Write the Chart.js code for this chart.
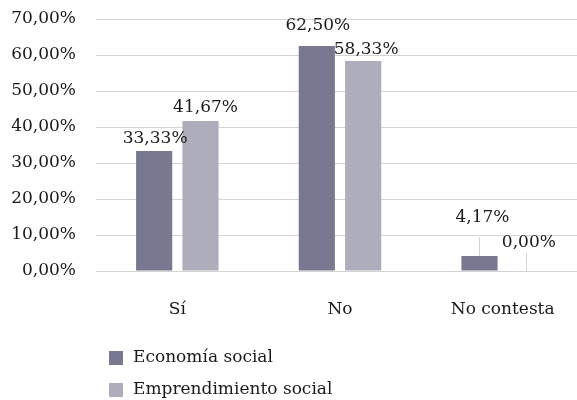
<!DOCTYPE html>
<html>
<head>
<meta charset="utf-8">
<script src="https://cdn.jsdelivr.net/npm/chart.js@4/dist/chart.umd.min.js"></script>
<style>
html,body{margin:0;padding:0;background:#fff;overflow:hidden;width:577px;height:400px;}
#wrap{width:584px;height:400px;}
</style>
</head>
<body>
<div id="wrap"><canvas id="c" width="584" height="400"></canvas></div>
<script>
const categories = ["Sí", "No", "No contesta"];
const seriesNames = ["Economía social", "Emprendimiento social"];
const economiaSocial = [33.33, 62.50, 4.17];
const emprendimientoSocial = [41.67, 58.33, 0.00];
const yTicks = [0, 10, 20, 30, 40, 50, 60, 70];

const FONT = "'DejaVu Serif', 'Liberation Serif', serif";
const FSIZE = 17;
const TEXT = "#1a1a1a";
const GRID = "#d4d4d4";
const fmt = v => v.toFixed(2).replace('.', ',') + '%';

const barLabels = {
  id: 'barLabels',
  afterDatasetsDraw(chart, args, opts) {
    const ctx = chart.ctx;
    ctx.save();
    ctx.font = FSIZE + 'px ' + FONT;
    ctx.fillStyle = TEXT;
    ctx.textAlign = 'center';
    ctx.textBaseline = 'middle';
    chart.data.datasets.forEach((ds, di) => {
      const meta = chart.getDatasetMeta(di);
      meta.data.forEach((el, i) => {
        const dy = opts.dy[di][i];
        const lead = opts.leader[di][i];
        if (lead > 0) {
          ctx.strokeStyle = GRID;
          ctx.lineWidth = 1;
          ctx.beginPath();
          const lx = Math.round(el.x) + 0.5;
          ctx.moveTo(lx, el.y);
          ctx.lineTo(lx, el.y - lead);
          ctx.stroke();
        }
        ctx.fillText(fmt(ds.data[i]), el.x + opts.dx[di][i], el.y + dy);
      });
    });
    ctx.restore();
  }
};

const customLegend = {
  id: 'customLegend',
  afterDraw(chart, args, opts) {
    const ctx = chart.ctx;
    ctx.save();
    ctx.font = FSIZE + 'px ' + FONT;
    ctx.textBaseline = 'middle';
    ctx.textAlign = 'left';
    chart.data.datasets.forEach((ds, di) => {
      const cy = opts.top + di * opts.rowHeight;
      ctx.fillStyle = ds.backgroundColor;
      ctx.fillRect(opts.left, cy - 7, 14, 14);
      ctx.fillStyle = TEXT;
      ctx.fillText(ds.label, opts.left + 24, cy);
    });
    ctx.restore();
  }
};

new Chart(document.getElementById('c'), {
  type: 'bar',
  data: {
    labels: categories,
    datasets: [
      { label: seriesNames[0], data: economiaSocial, backgroundColor: '#787890',
        borderWidth: 0, barPercentage: 0.78, categoryPercentage: 0.57 },
      { label: seriesNames[1], data: emprendimientoSocial, backgroundColor: '#adadbb',
        borderWidth: 0, barPercentage: 0.78, categoryPercentage: 0.57 }
    ]
  },
  options: {
    responsive: false,
    animation: false,
    devicePixelRatio: 1,
    layout: { padding: { top: 19, left: 0, right: 0, bottom: 0 } },
    plugins: {
      legend: { display: false },
      tooltip: { enabled: false },
      barLabels: {
        dy: [[-12, -20, -38], [-13, -11, -28]],
        dx: [[1, 1, 3], [5, 3, 3]],
        leader: [[0, 0, 19], [0, 0, 18]]
      },
      customLegend: { left: 109, top: 358, rowHeight: 32 }
    },
    scales: {
      x: {
        grid: { display: false },
        border: { display: false },
        ticks: { color: TEXT, font: { family: FONT, size: FSIZE }, padding: 20 },
        afterFit(s) { s.height = 129; s.paddingLeft = 0; s.paddingRight = 0; }
      },
      y: {
        min: 0, max: 70,
        afterBuildTicks(s) { s.ticks = yTicks.map(v => ({ value: v })); },
        grid: { color: GRID, drawTicks: false, lineWidth: 1 },
        border: { display: false },
        ticks: { color: TEXT, font: { family: FONT, size: FSIZE }, padding: 20,
                 callback: v => fmt(v) },
        afterFit(s) { s.width = 96; s.paddingTop = 0; s.paddingBottom = 0; }
      }
    }
  },
  plugins: [barLabels, customLegend]
});
</script>
</body>
</html>
